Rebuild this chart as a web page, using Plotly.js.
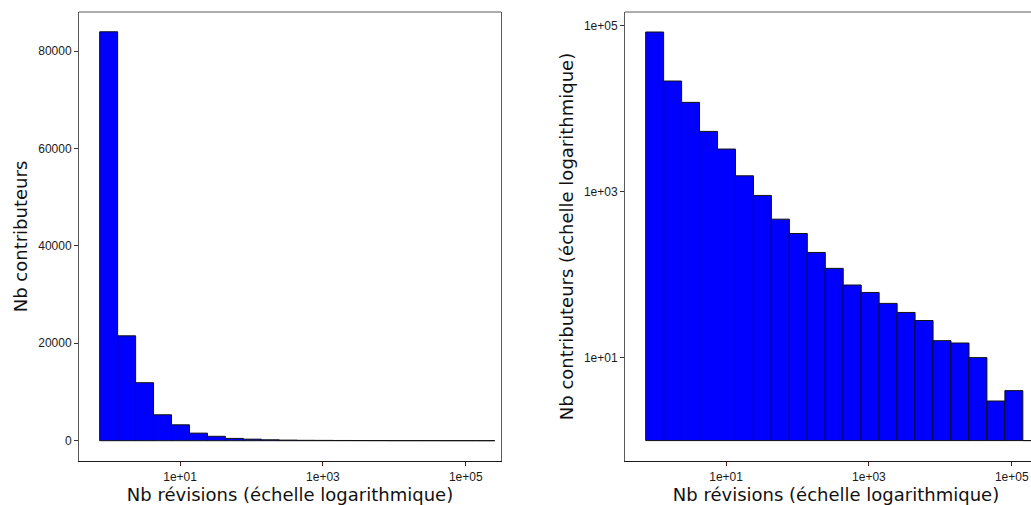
<!DOCTYPE html>
<html>
<head>
<meta charset="utf-8">
<script src="https://cdn.plot.ly/plotly-3.0.1.min.js"></script>
<style>
  html, body { margin: 0; padding: 0; overflow: hidden; background: #ffffff; }
  #chart { width: 1048px; height: 505px; }
</style>
</head>
<body>
<div id="chart"></div>
<script>
// Bin centres on the x axis, in log10(number of revisions)
var revisionBinsLog10 = [0.000, 0.252, 0.503, 0.755, 1.006, 1.258, 1.509, 1.761, 2.012, 2.264, 2.515,
                         2.767, 3.018, 3.270, 3.521, 3.773, 4.024, 4.276, 4.527, 4.779, 5.030, 5.282];
// Number of contributors in each bin
var contributors = [83950, 21530, 11910, 5320, 3260, 1552, 900, 466, 313, 185, 119,
                    75, 61, 45, 35, 28, 16, 15, 10, 3, 4, 1];
// Tick labels
var xTickVals = [1, 3, 5];
var xTickText = ['1e+01', '1e+03', '1e+05'];
var yLinTickVals = [0, 20000, 40000, 60000, 80000];
var yLinTickText = ['0', '20000', '40000', '60000', '80000'];
var yLogTickVals = [10, 1000, 100000];
var yLogTickText = ['1e+01', '1e+03', '1e+05'];

var xTitle = 'Nb révisions (échelle logarithmique)';
var yTitleLeft = 'Nb contributeurs';
var yTitleRight = 'Nb contributeurs (échelle logarithmique)';

var binWidth = 0.2515;
var barStyle = { color: '#0000ff', line: { color: '#111111', width: 1 } };

var traceLeft = {
  type: 'bar', x: revisionBinsLog10, y: contributors, width: binWidth,
  marker: barStyle, xaxis: 'x', yaxis: 'y', hoverinfo: 'skip'
};
var traceRight = {
  type: 'bar', x: revisionBinsLog10,
  y: contributors.map(function (c) { return c - 1; }), base: 1, width: binWidth,
  marker: barStyle, xaxis: 'x2', yaxis: 'y2', hoverinfo: 'skip'
};

var W = 1048, H = 505;
var tickFont = { family: 'Liberation Sans, Arial, sans-serif', size: 12, color: '#1a1a1a' };
var titleFont = { family: 'DejaVu Sans, sans-serif', size: 18, color: '#111111' };
var yDom = [44 / H, 493 / H];

function xAxis(dom, anchor) {
  return {
    domain: dom, anchor: anchor, range: [-0.415, 5.494], type: 'linear',
    tickmode: 'array', tickvals: xTickVals, ticktext: xTickText,
    ticks: 'outside', ticklen: 4, tickwidth: 1, tickcolor: '#5a1515',
    showgrid: false, zeroline: false, showline: true, linecolor: '#1a1a1a', linewidth: 1.2,
    tickfont: tickFont, automargin: false,
    title: { text: xTitle, font: titleFont, standoff: 0 }
  };
}

var layout = {
  width: W, height: H,
  margin: { l: 0, r: 0, t: 0, b: 0 },
  paper_bgcolor: '#ffffff', plot_bgcolor: '#ffffff',
  showlegend: false, bargap: 0,
  xaxis: xAxis([79 / W, 501 / W], 'y'),
  xaxis2: xAxis([625 / W, 1047 / W], 'y2'),
  yaxis: {
    domain: yDom, anchor: 'x', range: [-4170, 88010], type: 'linear',
    tickmode: 'array', tickvals: yLinTickVals, ticktext: yLinTickText,
    ticks: 'outside', ticklen: 4, tickwidth: 1, tickcolor: '#333333',
    showgrid: false, zeroline: false, showline: true, linecolor: '#5a5a5a', linewidth: 1, mirror: true,
    tickfont: tickFont, automargin: false,
    title: { text: yTitleLeft, font: titleFont, standoff: 5 }
  },
  yaxis2: {
    domain: yDom, anchor: 'x2', range: [-0.246, 5.165], type: 'log',
    tickmode: 'array', tickvals: yLogTickVals, ticktext: yLogTickText,
    ticks: 'outside', ticklen: 4, tickwidth: 1, tickcolor: '#333333',
    showgrid: false, zeroline: false, showline: true, linecolor: '#5a5a5a', linewidth: 1, mirror: true,
    tickfont: tickFont, automargin: false,
    title: { text: yTitleRight, font: titleFont, standoff: 5 }
  },
  shapes: [
    { type: 'line', xref: 'x domain', yref: 'y domain', x0: 0, x1: 1, y0: 1, y1: 1, line: { color: '#5a5a5a', width: 1 } },
    { type: 'line', xref: 'x2 domain', yref: 'y2 domain', x0: 0, x1: 1, y0: 1, y1: 1, line: { color: '#5a5a5a', width: 1 } }
  ]
};

Plotly.newPlot('chart', [traceLeft, traceRight], layout, { displayModeBar: false, staticPlot: true });
</script>
</body>
</html>
